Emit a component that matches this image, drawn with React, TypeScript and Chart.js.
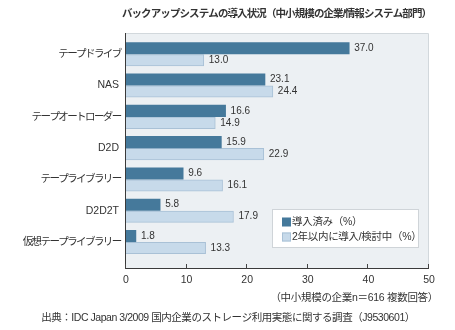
import React, { useEffect, useRef } from 'react';
import { Chart, registerables } from 'chart.js';

Chart.register(...registerables);

const title = 'バックアップシステムの導入状況（中小規模の企業/情報システム部門）';
const categories = [
  'テープドライブ',
  'NAS',
  'テープオートローダー',
  'D2D',
  'テープライブラリー',
  'D2D2T',
  '仮想テープライブラリー',
];
const adopted = [37.0, 23.1, 16.6, 15.9, 9.6, 5.8, 1.8];
const planned = [13.0, 24.4, 14.9, 22.9, 16.1, 17.9, 13.3];
const seriesNames = ['導入済み（%）', '2年以内に導入/検討中（%）'];
const xTicks = [0, 10, 20, 30, 40, 50];
const note = '（中小規模の企業n＝616 複数回答）';
const source = '出典：IDC Japan 3/2009 国内企業のストレージ利用実態に関する調査（J9530601）';

const DARK = '#45799B';
const LIGHT = '#C7DAEA';
const LIGHT_BORDER = '#A9C1D6';
const TEXT = '#333333';
const FONT = '"Liberation Sans", "Noto Sans CJK JP", sans-serif';

function txt(
  ctx: CanvasRenderingContext2D,
  s: string,
  x: number,
  y: number,
  size: number,
  align: CanvasTextAlign,
  spacing = 0,
  bold = false
) {
  ctx.save();
  ctx.font = `${bold ? 'bold ' : ''}${size}px ${FONT}`;
  (ctx as any).letterSpacing = `${spacing}px`;
  ctx.fillStyle = TEXT;
  ctx.textAlign = align;
  ctx.textBaseline = 'middle';
  ctx.fillText(s, x, y);
  ctx.restore();
}

const deco = {
  id: 'deco',
  beforeDatasetsDraw(chart: any) {
    const { ctx, chartArea: a } = chart;
    ctx.save();
    ctx.fillStyle = '#ECF0F3';
    ctx.fillRect(a.left, a.top, a.right - a.left, a.bottom - a.top);
    ctx.strokeStyle = '#D2D8DC';
    ctx.lineWidth = 1;
    ctx.beginPath();
    ctx.moveTo(a.left, a.top + 0.5);
    ctx.lineTo(a.right + 0.5, a.top + 0.5);
    ctx.lineTo(a.right + 0.5, a.bottom);
    ctx.stroke();
    ctx.restore();
  },
  afterDatasetsDraw(chart: any) {
    const { ctx, chartArea: a, scales } = chart;
    const xs = scales.x;
    const ys = scales.y;
    ctx.save();
    // axes
    ctx.strokeStyle = '#3a3a3a';
    ctx.lineWidth = 1;
    ctx.beginPath();
    ctx.moveTo(a.left + 0.5, a.top);
    ctx.lineTo(a.left + 0.5, a.bottom + 1);
    ctx.moveTo(a.left, a.bottom + 0.5);
    ctx.lineTo(a.right + 1, a.bottom + 0.5);
    ctx.stroke();
    // tick marks (inside)
    ctx.strokeStyle = '#444';
    ctx.beginPath();
    xTicks.forEach((t) => {
      const px = Math.round(xs.getPixelForValue(t)) + 0.5;
      ctx.moveTo(px, a.bottom - 4);
      ctx.lineTo(px, a.bottom + 0.5);
    });
    ctx.stroke();
    ctx.restore();

    // x tick labels
    xTicks.forEach((t) => {
      txt(ctx, String(t), xs.getPixelForValue(t) + 1, a.bottom + 12, 10.5, 'center');
    });
    // category labels
    categories.forEach((c, i) => {
      const cjk = /[^\x00-\x7f]/.test(c);
      txt(ctx, c, a.left - 6 + (cjk ? 1.6 : 0), ys.getPixelForValue(i), 10.5, 'right', cjk ? -1.6 : 0);
    });
    // data labels
    chart.data.datasets.forEach((ds: any, di: number) => {
      const meta = chart.getDatasetMeta(di);
      meta.data.forEach((el: any, i: number) => {
        txt(ctx, ds.data[i].x.toFixed(1), el.x + 5, el.y, 10, 'left');
      });
    });

    // legend
    const lx = a.right - 156;
    const ly = a.bottom - 59;
    const lw = 147;
    const lh = 39;
    ctx.save();
    ctx.fillStyle = '#ffffff';
    ctx.fillRect(lx, ly, lw, lh);
    ctx.strokeStyle = '#CFD4D8';
    ctx.lineWidth = 1;
    ctx.strokeRect(lx + 0.5, ly + 0.5, lw - 1, lh - 1);
    const colors = [DARK, LIGHT];
    seriesNames.forEach((n, i) => {
      const cy = ly + 13 + i * 15;
      ctx.fillStyle = colors[i];
      ctx.fillRect(lx + 10, cy - 4.5, 9, 9);
      if (i === 1) {
        ctx.strokeStyle = LIGHT_BORDER;
        ctx.strokeRect(lx + 10.5, cy - 4, 8, 8);
      }
      txt(ctx, n, lx + 20, cy, 10.5, 'left', -0.3);
    });
    ctx.restore();

    // title & notes
    txt(ctx, title, (a.left + a.right) / 2, 14, 10.5, 'center', -0.9, true);
    txt(ctx, note, a.right + 10, a.bottom + 30, 10.5, 'right', -0.3);
    txt(ctx, source, 228, 318, 10.5, 'center', -0.45);
  },
};

export default function App() {
  const ref = useRef<HTMLCanvasElement>(null);
  useEffect(() => {
    if (!ref.current) return;
    const chart = new Chart(ref.current, {
      type: 'bar',
      data: {
        datasets: [
          {
            label: seriesNames[0],
            data: adopted.map((v, i) => ({ x: v, y: i })),
            backgroundColor: DARK,
            borderWidth: 0,
            barThickness: 12,
            maxBarThickness: 11.4,
          },
          {
            label: seriesNames[1],
            data: planned.map((v, i) => ({ x: v, y: i })),
            backgroundColor: LIGHT,
            borderColor: LIGHT_BORDER,
            borderWidth: 1,
            barThickness: 12,
            maxBarThickness: 11.4,
          },
        ],
      },
      options: {
        indexAxis: 'y',
        responsive: false,
        animation: false,
        devicePixelRatio: 1,
        layout: { padding: { left: 125, right: 27, top: 33, bottom: 62 } },
        scales: {
          x: { type: 'linear', min: 0, max: 50, display: false, offset: false },
          y: {
            type: 'linear',
            min: -0.68,
            max: 6.83,
            reverse: true,
            display: false,
            offset: false,
            grid: { offset: false },
          },
        },
        plugins: {
          legend: { display: false },
          tooltip: { enabled: false },
          title: { display: false },
        },
      },
      plugins: [deco],
    } as any);
    return () => chart.destroy();
  }, []);
  return (
    <div style={{ position: 'fixed', left: 0, top: 0, width: 455, height: 330, background: '#fff' }}>
      <canvas ref={ref} width={455} height={330} style={{ display: 'block' }} />
    </div>
  );
}
